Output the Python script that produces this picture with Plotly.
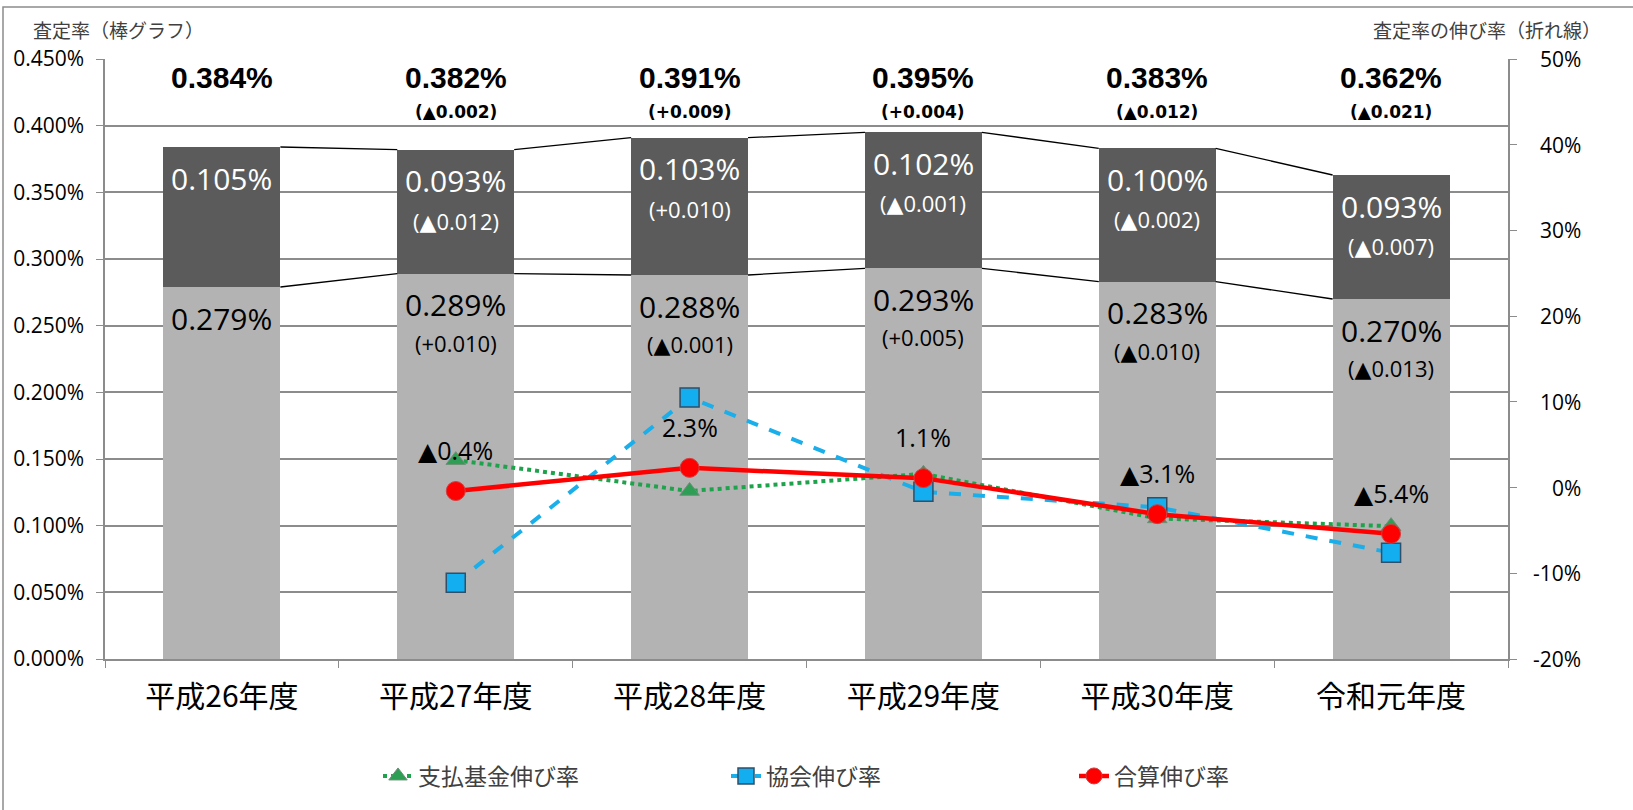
import plotly.graph_objects as go

# Fiscal years
years = ["平成26年度", "平成27年度", "平成28年度", "平成29年度", "平成30年度", "令和元年度"]

# Assessment rate (%) split into lower and upper components of each stacked bar
lower_rate = [0.279, 0.289, 0.288, 0.293, 0.283, 0.270]
upper_rate = [0.105, 0.093, 0.103, 0.102, 0.100, 0.093]
total_rate = [0.384, 0.382, 0.391, 0.395, 0.383, 0.362]

# Year-on-year differences shown under each value
total_diff = ["", "(▲0.002)", "(+0.009)", "(+0.004)", "(▲0.012)", "(▲0.021)"]
upper_diff = ["", "(▲0.012)", "(+0.010)", "(▲0.001)", "(▲0.002)", "(▲0.007)"]
lower_diff = ["", "(+0.010)", "(▲0.001)", "(+0.005)", "(▲0.010)", "(▲0.013)"]

# Growth rates (%) on the secondary axis
fund_growth = [None, 3.2, -0.4, 1.6, -3.6, -4.5]
assoc_growth = [None, -11.1, 10.5, -0.5, -2.3, -7.6]
combined_growth = [None, -0.4, 2.3, 1.1, -3.1, -5.4]
combined_labels = ["", "▲0.4%", "2.3%", "1.1%", "▲3.1%", "▲5.4%"]

# Secondary axis ticks (%)
growth_ticks = [-20, -10, 0, 10, 20, 30, 40, 50]

# Plot-area geometry in pixels
W, H = 1633, 810
L, R, T, B = 105, 125, 59, 151
PW, PH = W - L - R, H - T - B

def px_x(p):
    return (p - L) / PW

def px_y(p):
    return (H - B - p) / PH

NUM_FONT = "Open Sans, DejaVu Sans, Noto Sans CJK JP"
JP_FONT = "Noto Sans CJK JP, Noto Sans"
BOLD_FONT = "Liberation Sans, Arial, DejaVu Sans"
SMALL_BOLD = "DejaVu Sans"
GRID = "#8c8c8c"

fig = go.Figure()

fig.add_trace(go.Bar(x=years, y=lower_rate, marker=dict(color="#b3b3b3", line=dict(width=0)),
                     showlegend=False, hoverinfo="skip"))
fig.add_trace(go.Bar(x=years, y=upper_rate, marker=dict(color="#5b5b5b", line=dict(width=0)),
                     showlegend=False, hoverinfo="skip"))

fig.add_trace(go.Scatter(
    x=years, y=fund_growth, yaxis="y2", name="支払基金伸び率", mode="lines+markers",
    line=dict(color="#1fa24c", width=4, dash="dot"),
    marker=dict(symbol="triangle-up", size=17, color="#2e9e55", line=dict(color="#6f8f78", width=1)),
))
fig.add_trace(go.Scatter(
    x=years, y=assoc_growth, yaxis="y2", name="協会伸び率", mode="lines+markers",
    line=dict(color="#1aaeea", width=4, dash="dash"),
    marker=dict(symbol="square", size=19, color="#12aeef", line=dict(color="#2f4f6a", width=1.5)),
))
fig.add_trace(go.Scatter(
    x=years, y=combined_growth, yaxis="y2", name="合算伸び率", mode="lines+markers",
    line=dict(color="#ff0000", width=4.5),
    marker=dict(symbol="circle", size=19, color="#ff0000", line=dict(color="#d04040", width=1)),
))

shapes = []
# Connector lines between neighbouring bars (top edge and segment boundary)
bar_half = 0.25
for i in range(len(years) - 1):
    top_a = lower_rate[i] + upper_rate[i]
    top_b = lower_rate[i + 1] + upper_rate[i + 1]
    shapes.append(dict(type="line", xref="x", yref="y", x0=i + bar_half, x1=i + 1 - bar_half,
                       y0=top_a, y1=top_b, line=dict(color="#000000", width=1.3), layer="above"))
    shapes.append(dict(type="line", xref="x", yref="y", x0=i + bar_half, x1=i + 1 - bar_half,
                       y0=lower_rate[i], y1=lower_rate[i + 1], line=dict(color="#000000", width=1.3),
                       layer="above"))
# Outer frame of the chart area (left and top edges visible)
shapes.append(dict(type="rect", xref="paper", yref="paper",
                   x0=px_x(3), x1=px_x(1650), y0=px_y(830), y1=px_y(7),
                   line=dict(color="#8c8c8c", width=1.5), fillcolor="rgba(0,0,0,0)", layer="below"))

ann = []

def label(**kw):
    kw.setdefault("showarrow", False)
    kw.setdefault("xanchor", "center")
    kw.setdefault("yanchor", "middle")
    ann.append(kw)

for i, yr in enumerate(years):
    top = lower_rate[i] + upper_rate[i]
    # Totals above the bars
    label(x=yr, y=px_y(78), xref="x", yref="paper", text=f"<b>{total_rate[i]:.3f}%</b>",
          font=dict(family=BOLD_FONT, size=30, color="#000000"))
    if total_diff[i]:
        label(x=yr, y=px_y(112), xref="x", yref="paper", text=f"<b>{total_diff[i]}</b>",
              font=dict(family=SMALL_BOLD, size=17, color="#000000"))
    # Upper segment
    label(x=yr, y=top, xref="x", yref="y", yshift=-31, text=f"{upper_rate[i]:.3f}%",
          font=dict(family=NUM_FONT, size=30, color="#ffffff"))
    if upper_diff[i]:
        label(x=yr, y=top, xref="x", yref="y", yshift=-71, text=upper_diff[i],
              font=dict(family=NUM_FONT, size=22, color="#ffffff"))
    # Lower segment
    label(x=yr, y=lower_rate[i], xref="x", yref="y", yshift=-31, text=f"{lower_rate[i]:.3f}%",
          font=dict(family=NUM_FONT, size=30, color="#000000"))
    if lower_diff[i]:
        label(x=yr, y=lower_rate[i], xref="x", yref="y", yshift=-69, text=lower_diff[i],
              font=dict(family=NUM_FONT, size=22, color="#000000"))
    # Combined growth labels
    if combined_growth[i] is not None:
        label(x=yr, y=combined_growth[i], xref="x", yref="y2", yshift=41, text=combined_labels[i],
              font=dict(family=NUM_FONT, size=25, color="#000000"))

# Right-aligned tick labels of the secondary axis
for v in growth_ticks:
    label(x=px_x(1583), y=v, xref="paper", yref="y2", xanchor="right", text=f"{v}%",
          font=dict(family=NUM_FONT, size=21, color="#000000"))

# Axis captions
label(x=px_x(31), y=px_y(30), xref="paper", yref="paper", xanchor="left",
      text="査定率（棒グラフ）", font=dict(family=JP_FONT, size=19, color="#404040"))
label(x=px_x(1603), y=px_y(30), xref="paper", yref="paper", xanchor="right",
      text="査定率の伸び率（折れ線）", font=dict(family=JP_FONT, size=19, color="#404040"))

fig.update_layout(
    width=W, height=H,
    margin=dict(l=L, r=R, t=T, b=B),
    paper_bgcolor="#ffffff", plot_bgcolor="#ffffff",
    barmode="stack", bargap=0.5,
    shapes=shapes, annotations=ann,
    xaxis=dict(type="category", tickson="boundaries", ticks="outside", ticklen=7, tickcolor=GRID,
               showline=True, linecolor=GRID, linewidth=1.5, showgrid=False, ticklabelstandoff=10,
               tickfont=dict(family=JP_FONT, size=30, color="#000000")),
    yaxis=dict(range=[0, 0.45], dtick=0.05, tickformat=".3f", ticksuffix="%",
               showgrid=True, gridcolor=GRID, gridwidth=1.5, zeroline=False,
               showline=True, linecolor=GRID, linewidth=1.5, ticks="outside", ticklen=7, tickcolor=GRID,
               ticklabelstandoff=8,
               tickfont=dict(family=NUM_FONT, size=21, color="#000000")),
    yaxis2=dict(range=[-20, 50], tickvals=growth_ticks, overlaying="y", side="right",
                showgrid=False, zeroline=False, showline=True, linecolor=GRID, linewidth=1.5,
                ticks="outside", ticklen=7, tickcolor=GRID, showticklabels=False),
    legend=dict(orientation="h", traceorder="normal", x=px_x(378), xanchor="left",
                y=px_y(776), yanchor="middle", entrywidth=303, entrywidthmode="pixels",
                font=dict(family=JP_FONT, size=23, color="#404040"), bgcolor="rgba(0,0,0,0)"),
)

fig.write_html("out.html")
